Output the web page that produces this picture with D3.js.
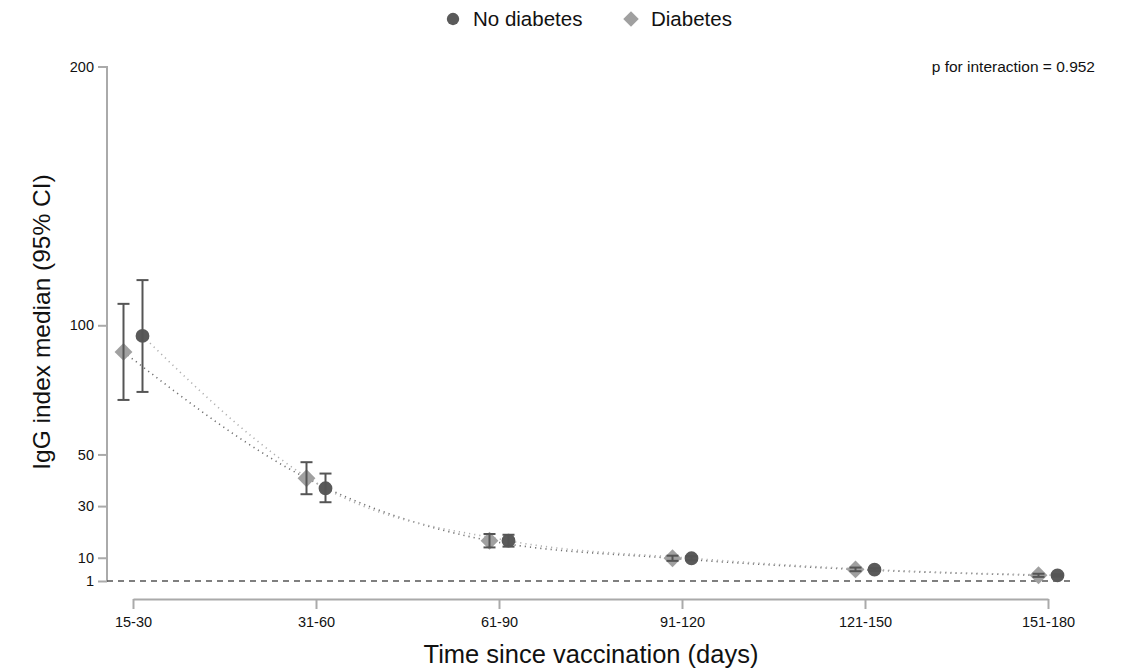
<!DOCTYPE html>
<html>
<head>
<meta charset="utf-8">
<script src="https://cdn.jsdelivr.net/npm/d3@7"></script>
<style>
  body { margin: 0; background: #fff; }
  text { font-family: "Liberation Sans", Arial, sans-serif; fill: #111; }
</style>
</head>
<body>
<div id="chart"></div>
<script>
var categories = ["15-30", "31-60", "61-90", "91-120", "121-150", "151-180"];
var noDiabMed = [95.9, 36.9, 16.6, 9.8, 5.4, 3.2];
var noDiabLo  = [74.2, 31.5, 14.3, 9.0, 4.9, 2.8];
var noDiabHi  = [117.5, 42.6, 18.9, 10.6, 5.9, 3.6];
var diabMed   = [89.7, 40.8, 16.6, 9.8, 5.5, 3.2];
var diabLo    = [71.1, 34.6, 14.0, 8.8, 4.8, 2.6];
var diabHi    = [108.3, 47.0, 19.2, 10.8, 6.2, 3.8];
var yTicks = [1, 10, 30, 50, 100, 200];

var width = 1124, height = 672;
var svg = d3.select("#chart").append("svg")
    .attr("width", width)
    .attr("height", height);

var x = d3.scalePoint().domain(categories).range([133, 1048]);
var y = d3.scaleLinear().domain([1, 200]).range([581, 67]);
var off = 9.5;

// diamond = square turned 45 degrees
function marker(shape, size) {
  return shape === "diamond"
    ? d3.symbol().type(d3.symbolSquare).size(size)()
    : d3.symbol().type(d3.symbolCircle).size(size)();
}

var series = [
  {name: "Diabetes", med: diabMed, lo: diabLo, hi: diabHi, dx: -off, color: "#a0a0a0", line: "#707070", shape: "diamond", size: 160},
  {name: "No diabetes", med: noDiabMed, lo: noDiabLo, hi: noDiabHi, dx: off, color: "#5a5a5a", line: "#b0b0b0", shape: "circle", size: 150}
];

// y axis
var yAxis = svg.append("g")
    .attr("transform", "translate(107,0)")
    .call(d3.axisLeft(y).tickValues(yTicks).tickSize(9).tickPadding(4));
yAxis.select(".domain").attr("d", "M-9,67H0V582").attr("stroke", "#aaa").attr("stroke-width", 2).attr("fill", "none");
yAxis.selectAll(".tick line").attr("stroke", "#aaa").attr("stroke-width", 2);
yAxis.selectAll(".tick text").style("font-size", "14.5px").attr("fill", "#111");
yAxis.selectAll(".tick").filter(function(d) { return d === 200; }).select("line").remove();

// x axis
var xAxis = svg.append("g")
    .attr("transform", "translate(0,599)")
    .call(d3.axisBottom(x).tickSize(10).tickPadding(8).tickSizeOuter(0));
xAxis.select(".domain").attr("stroke", "#aaa").attr("stroke-width", 2);
xAxis.selectAll(".tick line").attr("stroke", "#aaa").attr("stroke-width", 2);
xAxis.selectAll(".tick text").style("font-size", "14.5px").attr("fill", "#111");

// reference line at 1
svg.append("line")
    .attr("x1", 107).attr("x2", 1075)
    .attr("y1", y(1)).attr("y2", y(1))
    .attr("stroke", "#555").attr("stroke-width", 1.5)
    .attr("stroke-dasharray", "6,5");

// connecting dotted curves
var line = d3.line().curve(d3.curveMonotoneX);
series.forEach(function(s) {
  var pts = categories.map(function(c, i) { return [x(c) + s.dx, y(s.med[i])]; });
  svg.append("path")
      .attr("d", line(pts))
      .attr("fill", "none")
      .attr("stroke", s.line)
      .attr("stroke-width", 1.6)
      .attr("stroke-dasharray", "1.2,4");
});

// markers, then error bars drawn on top
series.forEach(function(s) {
  svg.append("g").selectAll("path").data(s.med).enter().append("path")
      .attr("d", marker(s.shape, s.size))
      .attr("transform", function(d, i) {
        return "translate(" + (x(categories[i]) + s.dx) + "," + y(d) + ")" + (s.shape === "diamond" ? " rotate(45)" : "");
      })
      .attr("fill", s.color);
});
series.forEach(function(s) {
  var g = svg.append("g");
  categories.forEach(function(c, i) {
    var cx = x(c) + s.dx;
    g.append("line").attr("x1", cx).attr("x2", cx)
        .attr("y1", y(s.lo[i])).attr("y2", y(s.hi[i]))
        .attr("stroke", "#555").attr("stroke-width", 2);
    [s.lo[i], s.hi[i]].forEach(function(v) {
      g.append("line").attr("x1", cx - 6).attr("x2", cx + 6)
          .attr("y1", y(v)).attr("y2", y(v))
          .attr("stroke", "#555").attr("stroke-width", 2);
    });
  });
});

// legend
var legend = [
  {label: "No diabetes", shape: "circle", color: "#5a5a5a", x: 453, size: 120},
  {label: "Diabetes", shape: "diamond", color: "#a0a0a0", x: 631, size: 120}
];
legend.forEach(function(l) {
  svg.append("path")
      .attr("d", marker(l.shape, l.size))
      .attr("transform", "translate(" + l.x + ",19)" + (l.shape === "diamond" ? " rotate(45)" : ""))
      .attr("fill", l.color);
  svg.append("text")
      .attr("x", l.x + 20).attr("y", 26)
      .style("font-size", "20.5px")
      .text(l.label);
});

svg.append("text")
    .attr("x", 1095).attr("y", 72)
    .attr("text-anchor", "end")
    .style("font-size", "15.5px")
    .text("p for interaction = 0.952");

svg.append("text")
    .attr("transform", "translate(50,322) rotate(-90)")
    .attr("text-anchor", "middle")
    .style("font-size", "24.5px")
    .text("IgG index median (95% CI)");

svg.append("text")
    .attr("x", 591).attr("y", 663)
    .attr("text-anchor", "middle")
    .style("font-size", "25.5px")
    .text("Time since vaccination (days)");
</script>
</body>
</html>
